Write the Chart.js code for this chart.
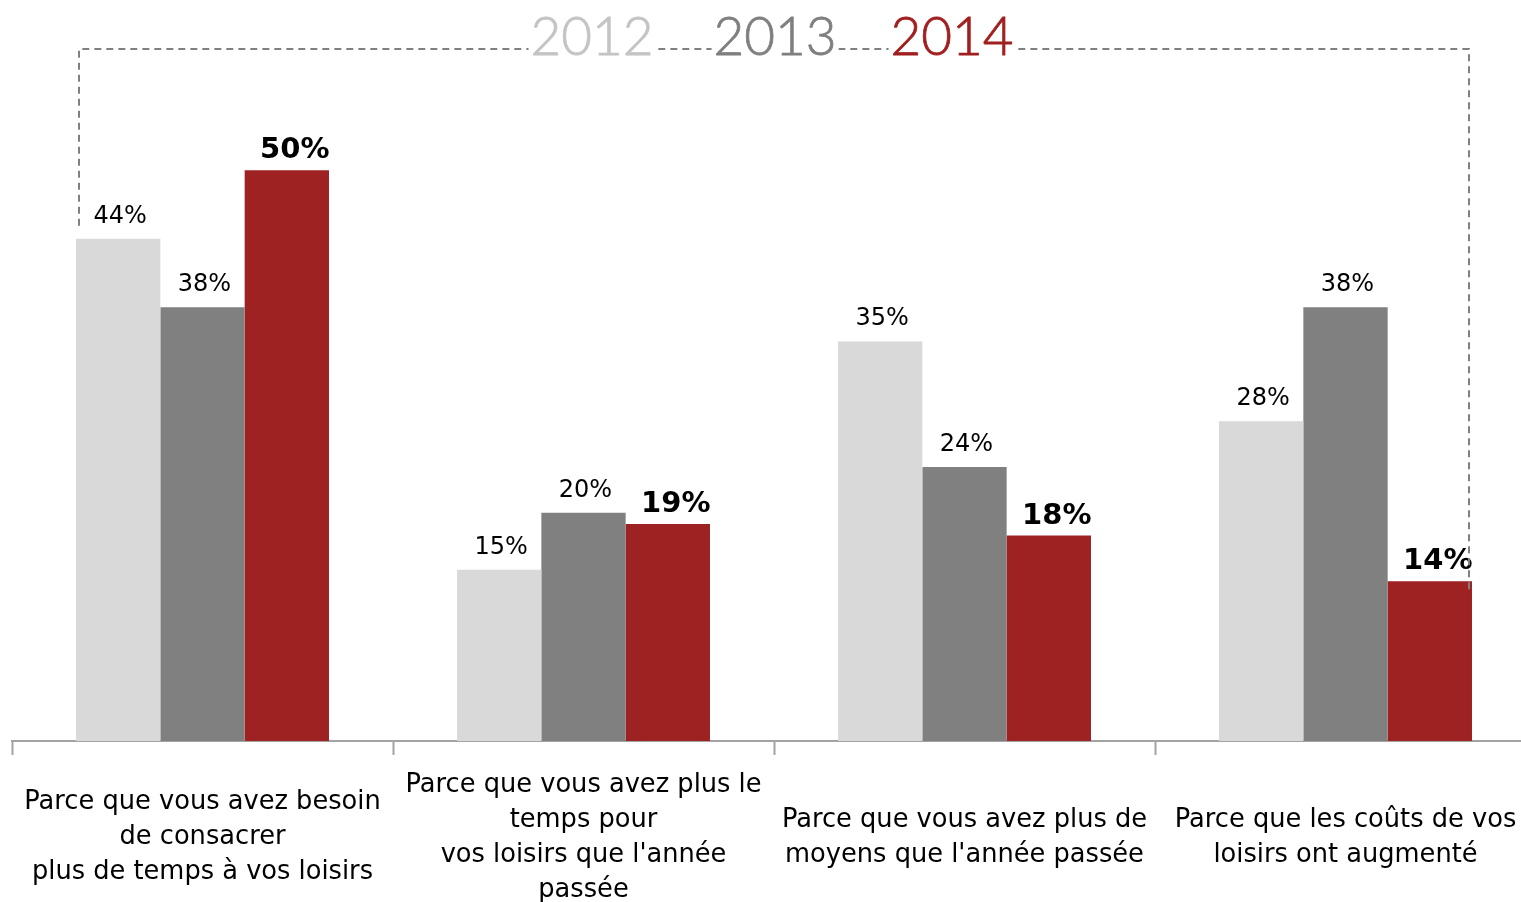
<!DOCTYPE html>
<html>
<head>
<meta charset="utf-8">
<script src="https://cdn.jsdelivr.net/npm/chart.js@4.4.1/dist/chart.umd.min.js"></script>
<style>
  html, body { margin: 0; padding: 0; background: #ffffff; overflow: hidden; }
  #wrap { position: relative; width: 1521px; height: 902px; overflow: hidden; }
  canvas { display: block; }
</style>
</head>
<body>
<div id="wrap"><canvas id="c" width="1536" height="902"></canvas></div>
<script>
const categories = [
  ["Parce que vous avez besoin", "de consacrer", "plus de temps à vos loisirs"],
  ["Parce que vous avez plus le", "temps pour", "vos loisirs que l'année", "passée"],
  ["Parce que vous avez plus de", "moyens que l'année passée"],
  ["Parce que les coûts de vos", "loisirs ont augmenté"]
];
const years = ["2012", "2013", "2014"];
const values2012 = [44, 15, 35, 28];
const values2013 = [38, 20, 24, 38];
const values2014 = [50, 19, 18, 14];

const barColors = ["#d9d9d9", "#808080", "#9e2222"];
const yearTextColors = ["#c4c4c4", "#7f7f7f", "#a11f1f"];

const labelPlugin = {
  id: 'barLabels',
  afterDatasetsDraw(chart) {
    const ctx = chart.ctx;
    chart.data.datasets.forEach((ds, di) => {
      const meta = chart.getDatasetMeta(di);
      const bold = di === 2;
      meta.data.forEach((bar, i) => {
        ctx.save();
        ctx.fillStyle = '#000000';
        ctx.textAlign = 'center';
        ctx.textBaseline = 'alphabetic';
        if (bold) {
          ctx.font = 'bold 29px "DejaVu Sans"';
          ctx.fillText(ds.data[i] + '%', bar.x + 8, bar.y - 12);
        } else {
          ctx.font = '24px "DejaVu Sans"';
          ctx.fillText(ds.data[i] + '%', bar.x + 2, bar.y - 16);
        }
        ctx.restore();
      });
    });
  }
};

const bracketPlugin = {
  id: 'yearBracket',
  afterDraw(chart) {
    const ctx = chart.ctx;
    const first = chart.getDatasetMeta(0).data[0];
    const lastMeta = chart.getDatasetMeta(2);
    const last = lastMeta.data[lastMeta.data.length - 1];
    const xL = first.x - first.width / 2 + 3;
    const xR = last.x + last.width / 2 - 3;
    const yTop = 49;
    ctx.save();
    ctx.strokeStyle = '#808080';
    ctx.lineWidth = 2;
    ctx.setLineDash([7, 5]);
    ctx.beginPath();
    ctx.moveTo(xL, first.y - 13);
    ctx.lineTo(xL, yTop);
    ctx.lineTo(xR, yTop);
    ctx.lineTo(xR, last.y + 9);
    ctx.stroke();
    ctx.setLineDash([]);
    const mid = (xL + xR) / 2;
    const offs = [-182, 1, 178];
    ctx.font = '300 53px Lato, "DejaVu Sans"';
    ctx.textAlign = 'center';
    ctx.textBaseline = 'alphabetic';
    years.forEach((y, i) => {
      const cx = mid + offs[i];
      const w = ctx.measureText(y).width;
      ctx.fillStyle = '#ffffff';
      ctx.fillRect(cx - w / 2 - 2, 12, w + 4, 46);
      ctx.fillStyle = yearTextColors[i];
      ctx.fillText(y, cx, 55);
      ctx.strokeStyle = yearTextColors[i];
      ctx.lineWidth = 0.8;
      ctx.strokeText(y, cx, 55);
    });
    ctx.restore();
  }
};

new Chart(document.getElementById('c'), {
  type: 'bar',
  data: {
    labels: categories,
    datasets: [
      { label: years[0], data: values2012, backgroundColor: barColors[0] },
      { label: years[1], data: values2013, backgroundColor: barColors[1] },
      { label: years[2], data: values2014, backgroundColor: barColors[2] }
    ]
  },
  options: {
    responsive: false,
    devicePixelRatio: 1,
    animation: false,
    categoryPercentage: 0.664,
    barPercentage: 1,
    layout: { padding: { top: 56, left: 12, right: 0, bottom: 0 } },
    plugins: { legend: { display: false }, tooltip: { enabled: false }, title: { display: false } },
    scales: {
      y: { display: false, min: 0, max: 60 },
      x: {
        afterFit(scale) {
          scale.height = 161;
          scale.paddingLeft = 0;
          scale.paddingRight = 0;
          scale.paddingTop = 0;
          scale.paddingBottom = 0;
        },
        border: { display: true, color: '#a3a3a3', width: 2 },
        grid: {
          offset: true,
          drawOnChartArea: false,
          drawTicks: true,
          tickLength: 14,
          tickWidth: 2,
          tickColor: '#a3a3a3'
        },
        ticks: {
          color: '#000000',
          font: { family: '"DejaVu Sans"', size: 25.7, lineHeight: 1.36 },
          crossAlign: 'center',
          padding: 30,
          maxRotation: 0,
          autoSkip: false
        }
      }
    }
  },
  plugins: [labelPlugin, bracketPlugin]
});
</script>
</body>
</html>
